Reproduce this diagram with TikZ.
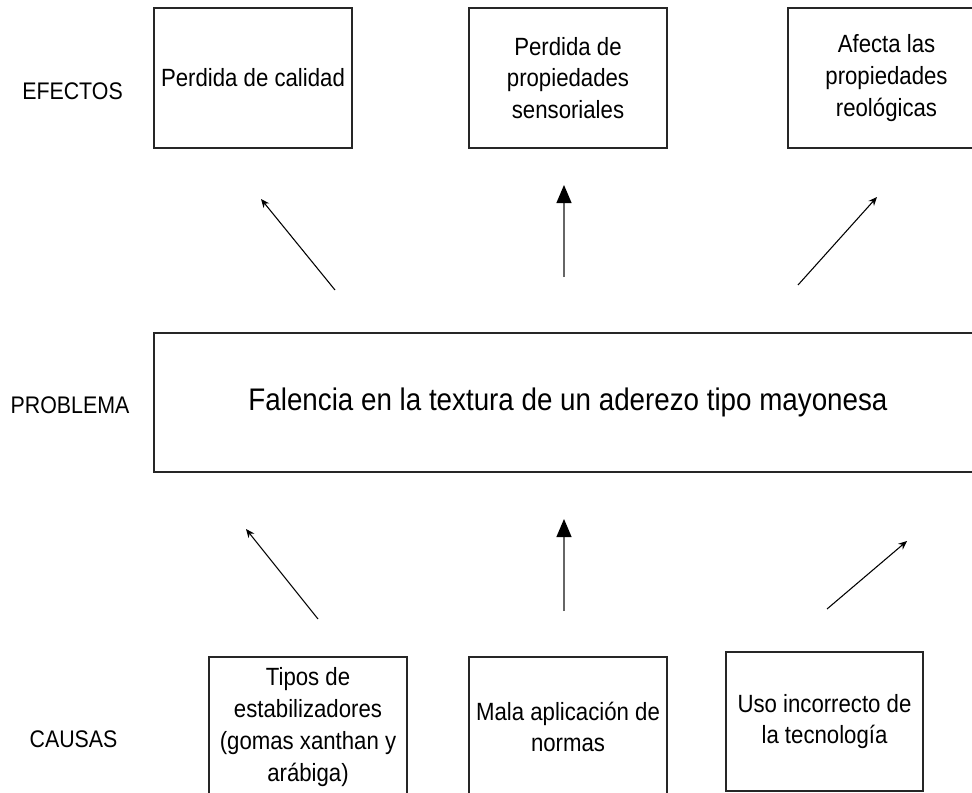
\documentclass[tikz,border=0pt]{standalone}
\usepackage{fontspec}
\setmainfont{Liberation Sans}[FakeStretch=0.89]
\usetikzlibrary{arrows.meta}
\tikzset{
  box/.style={draw=black!85, line width=0.8pt, rectangle, minimum width=198*0.75pt, minimum height=140*0.75pt, align=center, inner sep=0pt, font=\fontsize{18.7}{23.8}\selectfont},
  lbl/.style={anchor=base, inner sep=0pt, font=\fontsize{18}{22}\selectfont},
  thinarrow/.style={draw=black, line width=0.8pt, -{Stealth[length=6.5pt, width=5.5pt]}},
  bigarrow/.style={draw=black!60, line width=0.9pt, -{Triangle[length=13.5pt, width=11.25pt, color=black, fill=black]}}
}
\begin{document}
\begin{tikzpicture}[x=0.75pt, y=-0.75pt]
\clip (0,0) rectangle (972,793);
\fill[white] (0,0) rectangle (972,793);

% labels
\node[lbl] (lef) at (72.5,99) {EFECTOS};
\node[lbl] (lpr) at (70,413) {PROBLEMA};
\node[lbl] (lca) at (73.5,747) {CAUSAS};

% effects
\node[box] (e1) at (253,78) {Perdida de calidad};
\node[box] (e2) at (568,78) {Perdida de\\propiedades\\sensoriales};
\node[box, minimum width=197*0.75pt] (e3) at (886.5,78) {Afecta las\\propiedades\\reológicas};

% problem
\node[box, minimum width=828*0.75pt, minimum height=139*0.75pt, font=\fontsize{23.4}{28}\selectfont] (p) at (568,402.5) {Falencia en la textura de un aderezo tipo mayonesa};

% causes
\node[box] (c1) at (308,727) {Tipos de\\estabilizadores\\(gomas xanthan y\\arábiga)};
\node[box] (c2) at (568,727) {Mala aplicación de\\normas};
\node[box, minimum width=197*0.75pt, minimum height=139*0.75pt] (c3) at (824.5,721.5) {Uso incorrecto de\\la tecnología};

% arrow end points
\coordinate (a1s) at (335,290); \coordinate (a1e) at (261,199);
\coordinate (a2s) at (564,277); \coordinate (a2e) at (564,185);
\coordinate (a3s) at (798,285); \coordinate (a3e) at (877,197);
\coordinate (b1s) at (318,619); \coordinate (b1e) at (246,529);
\coordinate (b2s) at (564,611); \coordinate (b2e) at (564,519);
\coordinate (b3s) at (827,609); \coordinate (b3e) at (907,541);

\draw[thinarrow] (a1s) -- (a1e);
\draw[bigarrow] (a2s) -- (a2e);
\draw[thinarrow] (a3s) -- (a3e);
\draw[thinarrow] (b1s) -- (b1e);
\draw[bigarrow] (b2s) -- (b2e);
\draw[thinarrow] (b3s) -- (b3e);
\end{tikzpicture}
\end{document}
